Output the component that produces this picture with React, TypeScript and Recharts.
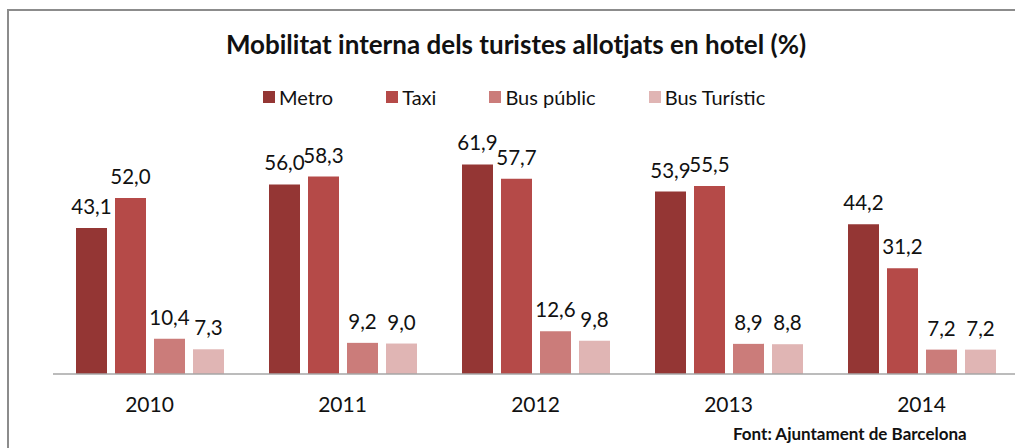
import React from "react";
import { BarChart, Bar, XAxis, YAxis, LabelList } from "recharts";

const years = ["2010", "2011", "2012", "2013", "2014"];
const metro = [43.1, 56.0, 61.9, 53.9, 44.2];
const taxi = [52.0, 58.3, 57.7, 55.5, 31.2];
const busPublic = [10.4, 9.2, 12.6, 8.9, 7.2];
const busTuristic = [7.3, 9.0, 9.8, 8.8, 7.2];

const series = [
    { key: "metro", name: "Metro", color: "#943634" },
    { key: "taxi", name: "Taxi", color: "#B54A48" },
    { key: "busPublic", name: "Bus públic", color: "#CB7C7A" },
    { key: "busTuristic", name: "Bus Turístic", color: "#E0B5B4" },
];

const data = years.map((year, i) => ({
    year,
    metro: metro[i],
    taxi: taxi[i],
    busPublic: busPublic[i],
    busTuristic: busTuristic[i],
}));

const FONT = "Lato, 'Noto Sans', sans-serif";

const fmt = (v: any) => Number(v).toFixed(1).replace(".", ",");

export default function App() {
    return (
        <div
            style={{
                position: "absolute",
                left: 0,
                top: 0,
                width: 1015,
                height: 448,
                overflow: "hidden",
                background: "#fff",
            }}
        >
            <div
                style={{
                    position: "absolute",
                    left: 7,
                    top: 9,
                    width: 1100,
                    height: 600,
                    border: "2px solid #8c8c8c",
                }}
            />
            <div
                style={{
                    position: "absolute",
                    left: 0,
                    width: 1032,
                    top: 28,
                    textAlign: "center",
                    fontFamily: FONT,
                    fontWeight: 700,
                    fontSize: 26,
                    color: "#111",
                }}
            >
                Mobilitat interna dels turistes allotjats en hotel (%)
            </div>
            <div
                style={{
                    position: "absolute",
                    left: 263,
                    top: 85,
                    display: "flex",
                    fontFamily: FONT,
                    fontSize: 20,
                    color: "#111",
                }}
            >
                {series.map((s) => (
                    <div key={s.key} style={{ display: "flex", alignItems: "center", marginRight: 53 }}>
                        <span style={{ width: 12, height: 12, background: s.color, marginRight: 4, display: "inline-block" }} />
                        <span>{s.name}</span>
                    </div>
                ))}
            </div>
            <div style={{ position: "absolute", left: 0, top: 0 }}>
                <BarChart
                    width={1030}
                    height={448}
                    data={data}
                    margin={{ top: 137, right: 12, bottom: 44, left: 53 }}
                    barSize={31}
                    barGap={8}
                >
                    <XAxis
                        dataKey="year"
                        height={30}
                        tickLine={false}
                        tickMargin={17}
                        axisLine={{ stroke: "#a6a6a6", strokeWidth: 1.5 }}
                        tick={{ fill: "#111", fontSize: 21, fontFamily: FONT }}
                    />
                    <YAxis hide domain={[0, 70]} />
                    {series.map((s) => (
                        <Bar key={s.key} dataKey={s.key} name={s.name} fill={s.color} isAnimationActive={false}>
                            <LabelList
                                dataKey={s.key}
                                position="top"
                                offset={14}
                                formatter={fmt}
                                style={{ fill: "#111", fontSize: 20.5, fontFamily: FONT }}
                            />
                        </Bar>
                    ))}
                </BarChart>
            </div>
            <div
                style={{
                    position: "absolute",
                    left: 733,
                    top: 423,
                    fontFamily: FONT,
                    fontWeight: 700,
                    fontSize: 17,
                    color: "#111",
                    whiteSpace: "nowrap",
                }}
            >
                Font: Ajuntament de Barcelona
            </div>
        </div>
    );
}
